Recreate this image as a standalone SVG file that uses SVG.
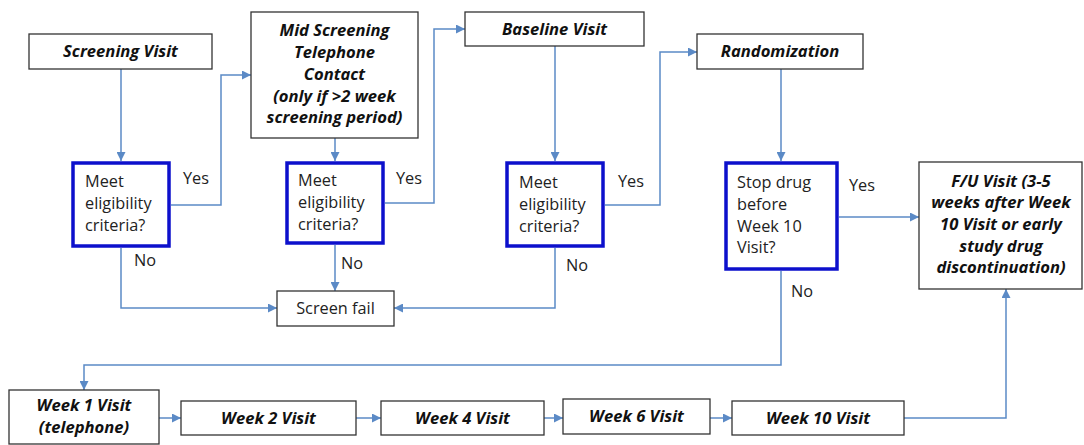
<svg xmlns="http://www.w3.org/2000/svg" width="1084" height="445" viewBox="0 0 1084 445">
<style>
.box{fill:#fff;stroke:#333;stroke-width:1.3}
.dec{fill:#fff;stroke:#0d10cc;stroke-width:3.5}
.lbl{font-family:"Open Sans","Liberation Sans",sans-serif;font-size:16.6px;font-weight:bold;font-style:italic;fill:#111;text-anchor:middle}
.txt{font-family:"Open Sans","Liberation Sans",sans-serif;font-size:16.3px;fill:#222}
.con{fill:none;stroke:#5b8ac6;stroke-width:1.5}
</style>
<defs>
<marker id="arr" viewBox="0 0 10 10" refX="10" refY="5" markerWidth="9" markerHeight="9" markerUnits="userSpaceOnUse" orient="auto">
<path d="M0,0 L10,5 L0,10 z" fill="#5b8ac6"/>
</marker>
</defs>
<rect width="1084" height="445" fill="#fff"/>
<g id="connectors">
<path class="con" marker-end="url(#arr)" d="M121,69 V161"/>
<path class="con" marker-end="url(#arr)" d="M171,205 H221 V75 H251"/>
<path class="con" marker-end="url(#arr)" d="M121,248 V308 H277"/>
<path class="con" marker-end="url(#arr)" d="M335,138 V161"/>
<path class="con" marker-end="url(#arr)" d="M385,203 H434 V29 H465"/>
<path class="con" marker-end="url(#arr)" d="M335,245 V291"/>
<path class="con" marker-end="url(#arr)" d="M555,46 V161"/>
<path class="con" marker-end="url(#arr)" d="M605,205 H660 V52 H697"/>
<path class="con" marker-end="url(#arr)" d="M555,248 V308 H394"/>
<path class="con" marker-end="url(#arr)" d="M781,69 V161"/>
<path class="con" marker-end="url(#arr)" d="M839,217 H919"/>
<path class="con" marker-end="url(#arr)" d="M781,271 V365 H84 V390"/>
<path class="con" marker-end="url(#arr)" d="M159,418 H181"/>
<path class="con" marker-end="url(#arr)" d="M356,418 H381"/>
<path class="con" marker-end="url(#arr)" d="M544,418 H563"/>
<path class="con" marker-end="url(#arr)" d="M710,418 H732"/>
<path class="con" marker-end="url(#arr)" d="M904,418 H1006 V289"/>
<text class="txt" x="183" y="184">Yes</text>
<text class="txt" x="134" y="266">No</text>
<text class="txt" x="396" y="184">Yes</text>
<text class="txt" x="341" y="269">No</text>
<text class="txt" x="618" y="187">Yes</text>
<text class="txt" x="566" y="271">No</text>
<text class="txt" x="849" y="191">Yes</text>
<text class="txt" x="791" y="297">No</text>
</g>
<g id="screening">
<rect class="box" x="29" y="34" width="183" height="35"/>
<text class="lbl" x="120.5" y="57">Screening Visit</text>
</g>
<g id="midscreening">
<rect class="box" x="251" y="12" width="167" height="126"/>
<text class="lbl" x="334.5" y="36">Mid Screening</text>
<text class="lbl" x="334.5" y="58">Telephone</text>
<text class="lbl" x="334.5" y="80">Contact</text>
<text class="lbl" x="334.5" y="102">(only if &gt;2 week</text>
<text class="lbl" x="334.5" y="123">screening period)</text>
</g>
<g id="baseline">
<rect class="box" x="465" y="12" width="179" height="34"/>
<text class="lbl" x="554.5" y="35">Baseline Visit</text>
</g>
<g id="randomization">
<rect class="box" x="697" y="34" width="166" height="35"/>
<text class="lbl" x="780" y="57">Randomization</text>
</g>
<g id="decision1">
<rect class="dec" x="73" y="163" width="96" height="83"/>
<text class="txt" x="85" y="187">Meet</text>
<text class="txt" x="85" y="209">eligibility</text>
<text class="txt" x="85" y="231">criteria?</text>
</g>
<g id="decision2">
<rect class="dec" x="287" y="163" width="96" height="80"/>
<text class="txt" x="298" y="186">Meet</text>
<text class="txt" x="298" y="208">eligibility</text>
<text class="txt" x="298" y="230">criteria?</text>
</g>
<g id="decision3">
<rect class="dec" x="507" y="163" width="96" height="83"/>
<text class="txt" x="519" y="188">Meet</text>
<text class="txt" x="519" y="210">eligibility</text>
<text class="txt" x="519" y="232">criteria?</text>
</g>
<g id="decision4">
<rect class="dec" x="726" y="163" width="111" height="106"/>
<text class="txt" x="737" y="188">Stop drug</text>
<text class="txt" x="737" y="210">before</text>
<text class="txt" x="737" y="232">Week 10</text>
<text class="txt" x="737" y="253">Visit?</text>
</g>
<g id="screenfail">
<rect class="box" x="277" y="291" width="117" height="35"/>
<text class="txt" x="335.5" y="314" text-anchor="middle">Screen fail</text>
</g>
<g id="followup">
<rect class="box" x="919" y="162" width="163" height="127"/>
<text class="lbl" x="1001" y="187">F/U Visit (3-5</text>
<text class="lbl" x="1001" y="208">weeks after Week</text>
<text class="lbl" x="1001" y="230">10 Visit or early</text>
<text class="lbl" x="1001" y="252">study drug</text>
<text class="lbl" x="1001" y="273">discontinuation)</text>
</g>
<g id="week1">
<rect class="box" x="9" y="390" width="150" height="54"/>
<text class="lbl" x="84" y="411">Week 1 Visit</text>
<text class="lbl" x="84" y="433">(telephone)</text>
</g>
<g id="week2">
<rect class="box" x="181" y="401" width="175" height="34"/>
<text class="lbl" x="268.5" y="424">Week 2 Visit</text>
</g>
<g id="week4">
<rect class="box" x="381" y="401" width="163" height="34"/>
<text class="lbl" x="462.5" y="424">Week 4 Visit</text>
</g>
<g id="week6">
<rect class="box" x="563" y="399" width="147" height="35"/>
<text class="lbl" x="636.5" y="422">Week 6 Visit</text>
</g>
<g id="week10">
<rect class="box" x="732" y="401" width="172" height="34"/>
<text class="lbl" x="818" y="424">Week 10 Visit</text>
</g>
</svg>
